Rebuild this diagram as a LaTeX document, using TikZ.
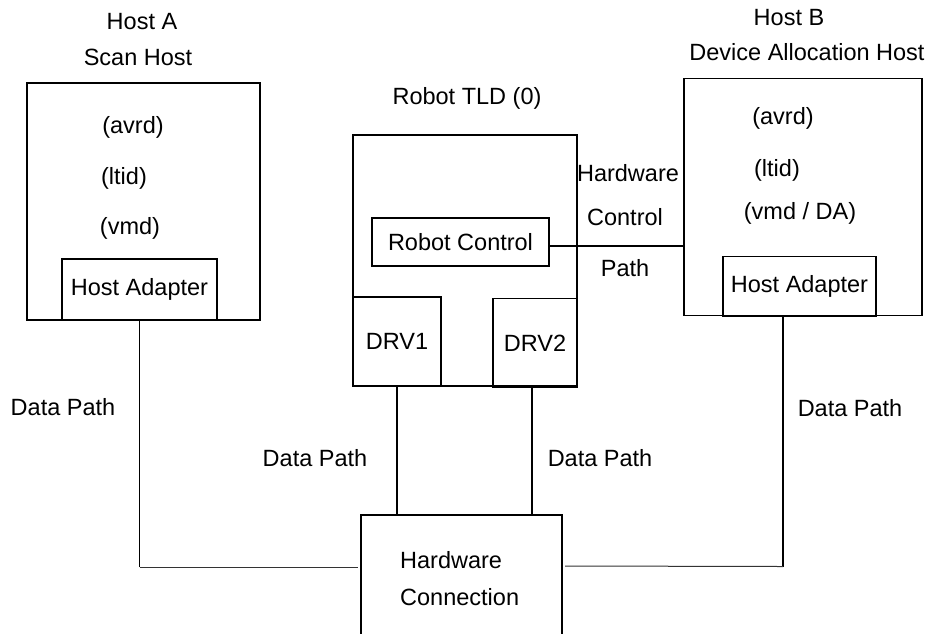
\documentclass[tikz,border=0pt]{standalone}
\usepackage{fontspec}
\setmainfont{Liberation Sans}
\usetikzlibrary{positioning,calc}
\newcommand{\dgfont}{\fontsize{23.5}{37}\selectfont}
\tikzset{
box/.style={draw,line width=1.3pt,inner sep=0pt,outer sep=0pt,font=\dgfont},
lbl/.style={font=\dgfont,inner sep=0pt},
link/.style={line width=1.2pt},
bus/.style={line width=1pt,draw=black!80}
}

\begin{document}
\begin{tikzpicture}[x=1pt,y=-1pt]
\clip (0,0) rectangle (931,633);
\fill[white] (0,0) rectangle (931,633);
% host A
\node[box,minimum width=233pt,minimum height=237pt] (hostA) at (143.5,201.5) {};
\node[box,minimum width=155pt,minimum height=61pt] (adaptA) at (139.5,289.5) {Host Adapter};
\node[lbl] (hostAname) at (142,22) {Host A};
\node[lbl] (hostArole) at (138,57) {Scan Host};
\node[lbl] (avrdA) at (133,127) {(avrd)};
\node[lbl] (ltidA) at (124,178) {(ltid)};
\node[lbl] (vmdA) at (130,228) {(vmd)};
% robot
\node[box,minimum width=224pt,minimum height=251pt] (robot) at (465,260.5) {};
\node[lbl] (robotname) at (467,98) {Robot TLD (0)};
\node[box,minimum width=177pt,minimum height=48pt] (rctl) at (460.5,242) {Robot Control};
\node[box,minimum width=88pt,minimum height=89pt] (drv1) at (397,341.5) {DRV1};
\node[box,minimum width=84pt,minimum height=89pt] (drv2) at (535,343) {DRV2};
\node[lbl] (hwpath1) at (628,173) {Hardware};
\node[lbl] (hwpath2) at (625,217) {Control};
\node[lbl] (hwpath3) at (625,268) {Path};
% host B
\node[box,minimum width=238pt,minimum height=237pt] (hostB) at (803,197) {};
\node[box,minimum width=153pt,minimum height=60pt] (adaptB) at (799.5,286.5) {Host Adapter};
\node[lbl] (hostBname) at (789,18) {Host B};
\node[lbl] (hostBrole) at (807,52) {Device Allocation Host};
\node[lbl] (avrdB) at (783,118) {(avrd)};
\node[lbl] (ltidB) at (777,170) {(ltid)};
\node[lbl] (vmdB) at (800,213) {(vmd / DA)};
% hardware connection, open at the bottom
\node[box,minimum width=201pt,minimum height=160pt,anchor=north west] (hwc) at (361,515) {};
\node[lbl,align=left,anchor=west] (hwctext) at (400,578.5) {Hardware\\Connection};
% path ends
\coordinate (rctlR) at ($(rctl.east)+(0,4)$);
\coordinate (drv2B) at ($(drv2.south)+(-3,0)$);
\coordinate (adaptAB) at ($(adaptA.south)+(0,247)$);
\coordinate (adaptBB) at ($(adaptB.south west)+(60,250)$);
\coordinate (hwcL) at ($(hwc.north west)+(-3,52)$);
\coordinate (hwcR) at ($(hwc.north east)+(3,51)$);
% paths
\draw[link] (rctlR) -- (rctlR -| hostB.west);
\draw[link] (adaptA.south) -- (adaptAB);
\draw[bus] (adaptAB) -- (hwcL);
\draw[link] (drv1.south) -- (drv1.south |- hwc.north);
\draw[link] (drv2B) -- (drv2B |- hwc.north);
\draw[link] (adaptBB |- adaptB.south) -- (adaptBB);
\draw[bus] (adaptBB) -- (hwcR);
\node[lbl] (dpA) at (63,407) {Data Path};
\node[lbl] (dp1) at (315,458) {Data Path};
\node[lbl] (dp2) at (600,458) {Data Path};
\node[lbl] (dpB) at (850,408) {Data Path};
\end{tikzpicture}
\end{document}
